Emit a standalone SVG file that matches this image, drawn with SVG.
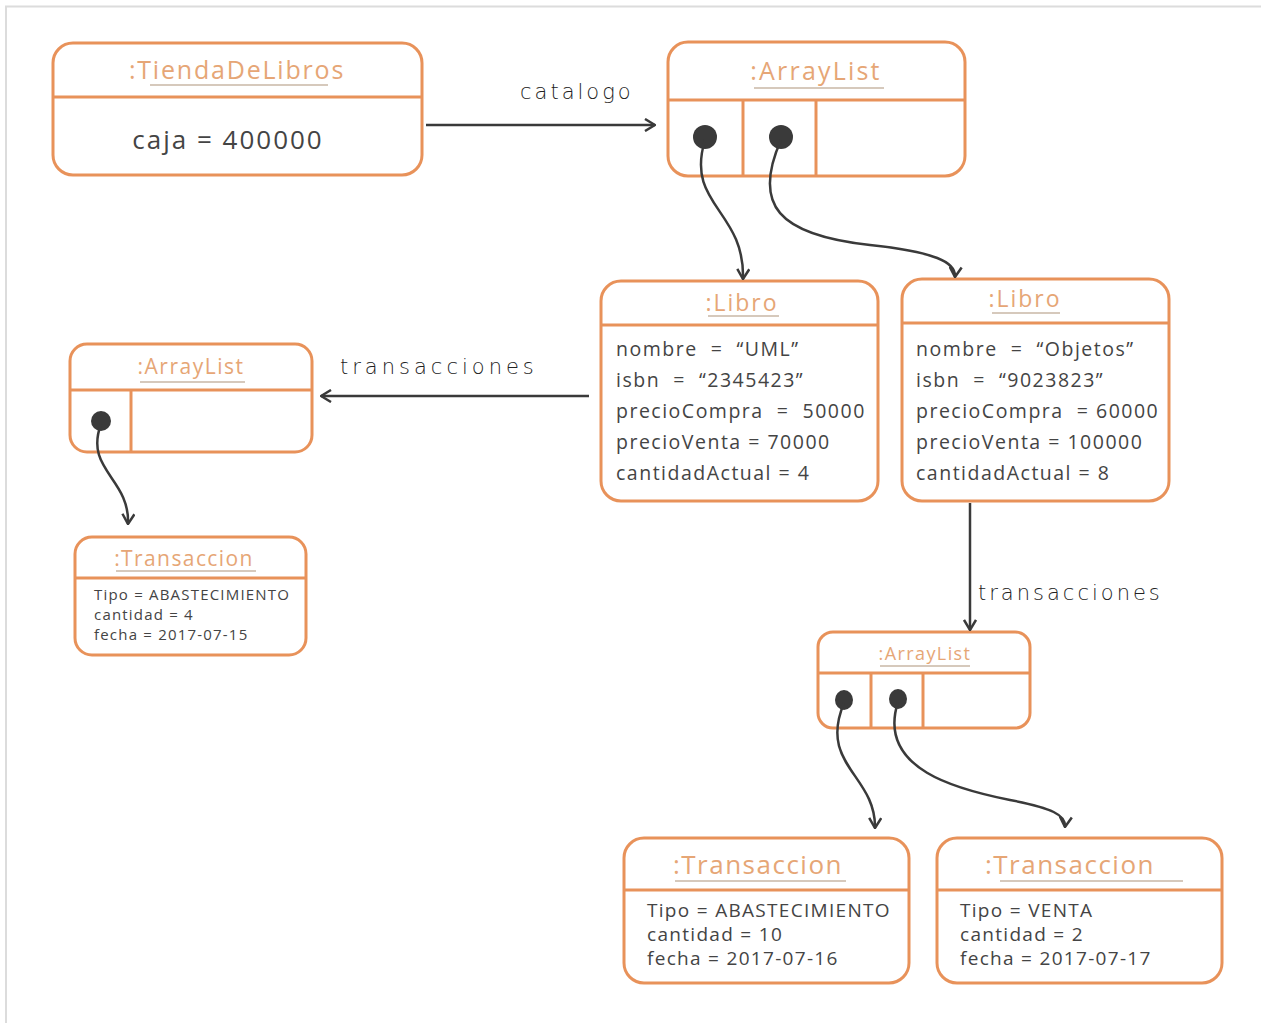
<svg xmlns="http://www.w3.org/2000/svg" width="1261" height="1023" viewBox="0 0 1261 1023">
<defs>
<style>
.box{fill:#fff;stroke:#e8925a;stroke-width:3}
.ln{stroke:#e8925a;stroke-width:3;fill:none}
.ttl{font-family:"Open Sans","Noto Sans",sans-serif;fill:#e6a676;text-anchor:middle;letter-spacing:1.8px}
.ul{stroke:#c9b7a6;stroke-width:1.5}
.att{font-family:"Open Sans","Noto Sans",sans-serif;fill:#444;white-space:pre}
.lbl{font-family:"DejaVu Sans",sans-serif;font-weight:200;fill:#222;letter-spacing:3.5px}
.con{stroke:#3a3a3a;stroke-width:2.5;fill:none}
.dot{fill:#3a3a3a}
</style>
<marker id="ah" viewBox="0 0 12 14" refX="11" refY="7" markerWidth="12" markerHeight="14" markerUnits="userSpaceOnUse" orient="auto">
<path d="M1,1 L11,7 L1,13" fill="none" stroke="#3a3a3a" stroke-width="2.5"/>
</marker>
</defs>
<rect width="1261" height="1023" fill="#fff"/>
<path d="M6,1023 V6.5 H1261" fill="none" stroke="#dcdcdc" stroke-width="2"/>

<g id="tienda">
<rect class="box" x="53" y="43" width="369" height="132" rx="20"/>
<line class="ln" x1="53" y1="97" x2="422" y2="97"/>
<text class="ttl" x="237" y="79" font-size="25">:TiendaDeLibros</text>
<line class="ul" x1="150" y1="85" x2="328" y2="85"/>
<text class="att" x="228" y="149" font-size="26" letter-spacing="2" text-anchor="middle">caja = 400000</text>
</g>

<g id="arraylist1">
<rect class="box" x="668" y="42" width="297" height="134" rx="20"/>
<line class="ln" x1="668" y1="100" x2="965" y2="100"/>
<line class="ln" x1="743" y1="100" x2="743" y2="176"/>
<line class="ln" x1="816" y1="100" x2="816" y2="176"/>
<text class="ttl" x="816" y="80" font-size="25" style="letter-spacing:2.2px">:ArrayList</text>
<line class="ul" x1="754" y1="88" x2="884" y2="88"/>
<circle class="dot" cx="705" cy="137" r="12"/>
<circle class="dot" cx="781" cy="137" r="12"/>
</g>

<g id="libro1">
<rect class="box" x="601" y="281" width="277" height="220" rx="20"/>
<line class="ln" x1="601" y1="325" x2="878" y2="325"/>
<text class="ttl" x="742" y="311" font-size="23" style="letter-spacing:2px">:Libro</text>
<line class="ul" x1="708" y1="316" x2="779" y2="316"/>
<text class="att" font-size="19.5" letter-spacing="1.5" xml:space="preserve"><tspan x="616" y="356">nombre  =  “UML”</tspan><tspan x="616" y="387">isbn  =  “2345423”</tspan><tspan x="616" y="418">precioCompra  =  50000</tspan><tspan x="616" y="449">precioVenta = 70000</tspan><tspan x="616" y="480">cantidadActual = 4</tspan></text>
</g>

<g id="libro2">
<rect class="box" x="902" y="279" width="267" height="222" rx="20"/>
<line class="ln" x1="902" y1="323" x2="1169" y2="323"/>
<text class="ttl" x="1025" y="307" font-size="23" style="letter-spacing:2px">:Libro</text>
<line class="ul" x1="992" y1="313" x2="1060" y2="313"/>
<text class="att" font-size="19.5" letter-spacing="1.5" xml:space="preserve"><tspan x="916" y="356">nombre  =  “Objetos”</tspan><tspan x="916" y="387">isbn  =  “9023823”</tspan><tspan x="916" y="418">precioCompra  = 60000</tspan><tspan x="916" y="449">precioVenta = 100000</tspan><tspan x="916" y="480">cantidadActual = 8</tspan></text>
</g>

<g id="arraylist2">
<rect class="box" x="70" y="344" width="242" height="108" rx="17"/>
<line class="ln" x1="70" y1="390" x2="312" y2="390"/>
<line class="ln" x1="131" y1="390" x2="131" y2="452"/>
<text class="ttl" x="191" y="374" font-size="21" style="letter-spacing:1.5px">:ArrayList</text>
<line class="ul" x1="140" y1="382" x2="245" y2="382"/>
<circle class="dot" cx="101" cy="421" r="10"/>
</g>

<g id="transaccion1">
<rect class="box" x="75" y="537" width="231" height="118" rx="17"/>
<line class="ln" x1="75" y1="578" x2="306" y2="578"/>
<text class="ttl" x="184" y="566" font-size="21" style="letter-spacing:1.4px">:Transaccion</text>
<line class="ul" x1="116" y1="571" x2="256" y2="571"/>
<text class="att" font-size="15" letter-spacing="1.2"><tspan x="94" y="600">Tipo = ABASTECIMIENTO</tspan><tspan x="94" y="620">cantidad = 4</tspan><tspan x="94" y="640">fecha = 2017-07-15</tspan></text>
</g>

<g id="arraylist3">
<rect class="box" x="818" y="632" width="212" height="96" rx="15"/>
<line class="ln" x1="818" y1="673" x2="1030" y2="673"/>
<line class="ln" x1="871" y1="673" x2="871" y2="728"/>
<line class="ln" x1="923" y1="673" x2="923" y2="728"/>
<text class="ttl" x="925" y="660" font-size="18" style="letter-spacing:1.4px">:ArrayList</text>
<line class="ul" x1="880" y1="666" x2="970" y2="666"/>
<ellipse class="dot" cx="844" cy="700" rx="9" ry="10"/>
<ellipse class="dot" cx="898" cy="699" rx="9" ry="10"/>
</g>

<g id="transaccion2">
<rect class="box" x="624" y="838" width="285" height="145" rx="20"/>
<line class="ln" x1="624" y1="890" x2="909" y2="890"/>
<text class="ttl" x="758" y="874" font-size="26" style="letter-spacing:1.5px">:Transaccion</text>
<line class="ul" x1="675" y1="881" x2="846" y2="881"/>
<text class="att" font-size="19" letter-spacing="1.3"><tspan x="647" y="917">Tipo = ABASTECIMIENTO</tspan><tspan x="647" y="941">cantidad = 10</tspan><tspan x="647" y="965">fecha = 2017-07-16</tspan></text>
</g>

<g id="transaccion3">
<rect class="box" x="937" y="838" width="285" height="145" rx="20"/>
<line class="ln" x1="937" y1="890" x2="1222" y2="890"/>
<text class="ttl" x="1070" y="874" font-size="26" style="letter-spacing:1.5px">:Transaccion</text>
<line class="ul" x1="1000" y1="881" x2="1183" y2="881"/>
<text class="att" font-size="19" letter-spacing="1.3"><tspan x="960" y="917">Tipo = VENTA</tspan><tspan x="960" y="941">cantidad = 2</tspan><tspan x="960" y="965">fecha = 2017-07-17</tspan></text>
</g>

<g id="connectors">
<line class="con" x1="426" y1="125" x2="655" y2="125" marker-end="url(#ah)"/>
<text class="lbl" x="520" y="99" font-size="21" style="letter-spacing:3px">catalogo</text>
<path class="con" d="M705,140 C685,205 745,210 743,279" marker-end="url(#ah)"/>
<path class="con" d="M781,140 C752,205 778,235 870,245 C935,252 956,262 955,277" marker-end="url(#ah)"/>
<line class="con" x1="589" y1="396" x2="321" y2="396" marker-end="url(#ah)"/>
<text class="lbl" x="340" y="374" font-size="21" style="letter-spacing:4px">transacciones</text>
<path class="con" d="M101,424 C84,470 130,478 128,524" marker-end="url(#ah)"/>
<line class="con" x1="970" y1="503" x2="970" y2="630" marker-end="url(#ah)"/>
<text class="lbl" x="978" y="600" font-size="21" style="letter-spacing:3px">transacciones</text>
<path class="con" d="M844,703 C818,765 876,775 875,828" marker-end="url(#ah)"/>
<path class="con" d="M898,702 C876,770 960,790 1010,800 C1052,808 1066,815 1065,827" marker-end="url(#ah)"/>
</g>
</svg>
